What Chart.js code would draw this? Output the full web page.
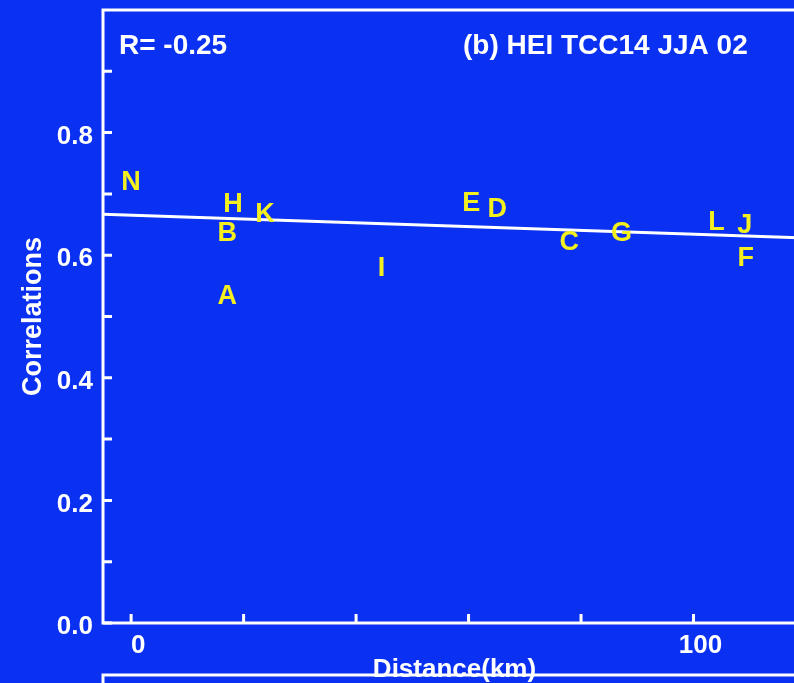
<!DOCTYPE html>
<html>
<head>
<meta charset="utf-8">
<script src="https://cdn.jsdelivr.net/npm/chart.js@4"></script>
<style>
  html, body { margin: 0; padding: 0; background: #0a30f2; overflow: hidden; }
  canvas { display: block; }
</style>
</head>
<body>
<canvas id="myChart" width="812" height="683"></canvas>
<script>
  // station letters, distance (km) and correlation
  const letters = ['N', 'H', 'B', 'K', 'A', 'I', 'E', 'D', 'C', 'G', 'L', 'J', 'F'];
  const distances = [0, 18.1, 17.1, 23.8, 17.1, 44.5, 60.5, 65.1, 77.9, 87.2, 104.1, 109.1, 109.3];
  const correlations = [0.718, 0.682, 0.636, 0.666, 0.532, 0.579, 0.685, 0.674, 0.620, 0.636, 0.653, 0.649, 0.595];

  // fitted line end points
  const fitX = [-5, 120];
  const fitY = [0.667, 0.628];

  // tick positions (labels only on some of them)
  const xTicks = [0, 20, 40, 60, 80, 100, 120];
  const xLabels = ['0', '', '', '', '', '100', ''];
  const yTicks = [0, 0.1, 0.2, 0.3, 0.4, 0.5, 0.6, 0.7, 0.8, 0.9];
  const yLabels = ['0.0', '', '0.2', '', '0.4', '', '0.6', '', '0.8', ''];

  const rText = 'R= -0.25';
  const panelTitle = '(b) HEI TCC14 JJA 02';

  const blue = '#0a30f2';
  const yellow = '#f4f020';

  Chart.defaults.font.family = 'Liberation Sans';
  Chart.defaults.font.weight = 'bold';
  Chart.defaults.color = '#fff';

  // frame, inward ticks, letters and panel texts
  const idlPlot = {
    id: 'idlPlot',
    beforeDraw(chart) {
      const { ctx, width, height } = chart;
      ctx.save();
      ctx.fillStyle = blue;
      ctx.fillRect(0, 0, width, height);
      ctx.restore();
    },
    afterDatasetsDraw(chart) {
      const { ctx, chartArea: a, scales } = chart;
      ctx.save();
      ctx.strokeStyle = '#fff';
      ctx.lineWidth = 3;
      ctx.strokeRect(a.left, a.top, a.right - a.left, a.bottom - a.top);

      ctx.beginPath();
      scales.y.ticks.forEach(t => {
        const p = scales.y.getPixelForValue(t.value);
        ctx.moveTo(a.left, p);
        ctx.lineTo(a.left + 9, p);
      });
      scales.x.ticks.forEach(t => {
        const p = scales.x.getPixelForValue(t.value);
        ctx.moveTo(p, a.bottom);
        ctx.lineTo(p, a.bottom - 9);
      });
      ctx.stroke();

      // top of the next panel below
      ctx.beginPath();
      ctx.moveTo(a.left, chart.height + 20);
      ctx.lineTo(a.left, a.bottom + 52);
      ctx.lineTo(chart.width, a.bottom + 52);
      ctx.stroke();

      // letters at the data points
      const meta = chart.getDatasetMeta(0);
      ctx.fillStyle = yellow;
      ctx.font = 'bold 27px "Liberation Sans"';
      ctx.textAlign = 'center';
      ctx.textBaseline = 'middle';
      meta.data.forEach((el, i) => {
        ctx.fillText(letters[i], el.x, el.y);
      });

      ctx.fillStyle = '#fff';
      ctx.textBaseline = 'middle';
      ctx.textAlign = 'left';
      ctx.font = 'bold 28px "Liberation Sans"';
      ctx.fillText(rText, a.left + 16, a.top + 36);
      ctx.fillText(panelTitle, a.left + 360, a.top + 36);
      ctx.restore();
    }
  };

  const data = {
    datasets: [
      {
        label: 'stations',
        data: distances.map((d, i) => ({ x: d, y: correlations[i] })),
        pointRadius: 0,
        showLine: false
      },
      {
        label: 'fit',
        type: 'line',
        data: fitX.map((d, i) => ({ x: d, y: fitY[i] })),
        borderColor: '#fff',
        borderWidth: 3,
        pointRadius: 0,
        fill: false
      }
    ]
  };

  const config = {
    type: 'scatter',
    data,
    plugins: [idlPlot],
    options: {
      responsive: false,
      animation: false,
      layout: { padding: { left: 0, top: 10, right: 6, bottom: 0 } },
      plugins: {
        legend: { display: false },
        tooltip: { enabled: false }
      },
      scales: {
        x: {
          type: 'linear',
          min: -5,
          max: 120,
          grid: { display: false, drawTicks: false },
          border: { display: false },
          afterBuildTicks(scale) { scale.ticks = xTicks.map(v => ({ value: v })); },
          afterFit(scale) {
            scale.height = 60;
            scale.paddingLeft = 0;
            scale.paddingRight = 0;
          },
          ticks: {
            padding: 7,
            labelOffset: 7,
            maxRotation: 0,
            autoSkip: false,
            color: '#fff',
            font: { size: 26, weight: 'bold' },
            callback: (v, i) => xLabels[i]
          },
          title: {
            display: true,
            text: 'Distance(km)',
            color: '#fff',
            font: { size: 26, weight: 'bold', lineHeight: 1 },
            padding: { top: 0, bottom: 0 }
          }
        },
        y: {
          min: 0,
          max: 1,
          grid: { display: false, drawTicks: false },
          border: { display: false },
          afterBuildTicks(scale) { scale.ticks = yTicks.map(v => ({ value: v })); },
          afterFit(scale) {
            scale.width = 103;
            scale.paddingTop = 0;
            scale.paddingBottom = 0;
          },
          ticks: {
            padding: 10,
            labelOffset: 4,
            autoSkip: false,
            color: '#fff',
            font: { size: 26, weight: 'bold' },
            callback: (v, i) => yLabels[i]
          },
          title: {
            display: true,
            text: 'Correlations',
            color: '#fff',
            font: { size: 27, weight: 'bold', lineHeight: 1 },
            padding: { top: 20, bottom: 0 }
          }
        }
      }
    }
  };

  var myChart = new Chart(
    document.getElementById('myChart'),
    config
  );
</script>
</body>
</html>
